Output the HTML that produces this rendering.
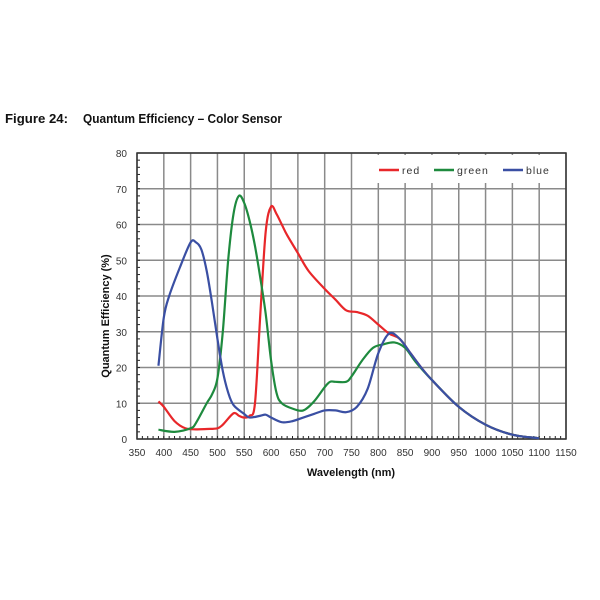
<!DOCTYPE html>
<html><head><meta charset="utf-8"><style>
body{margin:0;background:#fff;width:600px;height:600px;overflow:hidden}
svg{display:block;font-family:"Liberation Sans",sans-serif}
</style></head><body>
<svg id="chart" width="600" height="600" viewBox="0 0 600 600">
<text x="5" y="123" font-size="13" font-weight="bold" fill="#111" textLength="63" lengthAdjust="spacingAndGlyphs">Figure 24:</text>
<text x="83" y="123" font-size="13" font-weight="bold" fill="#111" textLength="199" lengthAdjust="spacingAndGlyphs">Quantum Efficiency – Color Sensor</text>
<g id="grid"></g>
<g id="axes"></g>
<g id="series"></g>
<g id="legend"></g>
<text x="351" y="476" font-size="11" font-weight="bold" text-anchor="middle" fill="#111">Wavelength (nm)</text>
<text transform="translate(109,316) rotate(-90)" font-size="11" font-weight="bold" text-anchor="middle" fill="#111">Quantum Efficiency (%)</text>
</svg>
<script>
const xTicks=[350,400,450,500,550,600,650,700,750,800,850,900,950,1000,1050,1100,1150];
const yTicks=[0,10,20,30,40,50,60,70,80];
const redX=[390,400,420,440,460,480,500,510,530,540,550,560,570,580,590,600,610,620,630,650,670,700,720,740,760,780,800,820,840,860,880,900,950,1000,1050,1100];
const redY=[10.5,9,5,3,2.7,2.8,3,4,7.2,6.5,6,6.5,10,35,58,65,63,60,57,52,47,42,39,36,35.5,34.5,32,29.5,28,24,20,16.5,9,4,1.2,0.2];
const greenX=[390,420,450,460,480,490,500,510,520,530,540,550,560,570,580,590,600,610,620,640,660,680,700,710,720,740,750,770,790,810,830,850,870,900,950,1000,1050,1100];
const greenY=[2.6,2,3,4.5,10,12.5,17,30,50,63,68,66,61,54,45,35,22,13,10,8.5,8,10.5,14.5,16,16,16,17.5,22,25.5,26.5,27,25.5,21.5,16.5,9,4,1.2,0.2];
const blueX=[390,400,410,430,450,460,470,480,490,500,510,520,530,550,560,580,590,600,620,640,660,680,700,720,740,760,780,800,820,840,860,880,900,950,1000,1050,1100];
const blueY=[20.5,34,40,48,55,55,53,47,38,28,19,13,9.5,7,6,6.5,6.8,6,4.7,5,6,7,8,8,7.5,9,14,24,29.5,28,24,20,16.5,9,4,1.2,0.2];
const NS="http://www.w3.org/2000/svg";
const L=137,R=566,T=153,B=439;
const sx=v=>L+(v-350)/(1150-350)*(R-L);
const sy=v=>B-v/80*(B-T);
function mk(tag,attrs,parent){const e=document.createElementNS(NS,tag);for(const k in attrs)e.setAttribute(k,attrs[k]);parent.appendChild(e);return e;}
const grid=document.getElementById('grid'),axes=document.getElementById('axes'),series=document.getElementById('series'),legend=document.getElementById('legend');
xTicks.forEach(t=>{
 const g=mk('line',{x1:sx(t),x2:sx(t),y1:T,y2:B,stroke:'#8a8a8a','stroke-width':1.5},grid);
 
 
 const tx=mk('text',{x:sx(t),y:B+17,'font-size':10,'text-anchor':'middle',fill:'#333'},axes);
 tx.textContent=t;
 
 
});
yTicks.forEach(t=>{
 const g=mk('line',{x1:L,x2:R,y1:sy(t),y2:sy(t),stroke:'#8a8a8a','stroke-width':1.5},grid);
 
 
 const tx=mk('text',{x:L-10,y:sy(t)+4,'font-size':10,'text-anchor':'end',fill:'#333'},axes);
 tx.textContent=t;
 
 
});
// minor ticks
for(let v=0;v<=80;v+=2){mk('line',{x1:L,x2:L+3,y1:sy(v),y2:sy(v),stroke:'#222','stroke-width':1},axes);}
for(let v=350;v<=1150;v+=10){mk('line',{x1:sx(v),x2:sx(v),y1:B,y2:B-3,stroke:'#222','stroke-width':1},axes);}
const fr=mk('rect',{x:L,y:T,width:R-L,height:B-T,fill:'none',stroke:'#333','stroke-width':1.5},axes);


function path(xs,ys){
 const p=xs.map((x,i)=>[sx(x),sy(ys[i])]);
 let d='M'+p[0][0]+','+p[0][1];
 for(let i=0;i<p.length-1;i++){
  const p0=p[Math.max(0,i-1)],p1=p[i],p2=p[i+1],p3=p[Math.min(p.length-1,i+2)];
  const c1=[p1[0]+(p2[0]-p0[0])/6,p1[1]+(p2[1]-p0[1])/6];
  const c2=[p2[0]-(p3[0]-p1[0])/6,p2[1]-(p3[1]-p1[1])/6];
  d+=' C'+c1[0]+','+c1[1]+' '+c2[0]+','+c2[1]+' '+p2[0]+','+p2[1];
 }
 return d;
}
const bg=mk('rect',{x:372,y:155,width:190,height:28,fill:'#fff'},legend);
const defs=[['red',redX,redY,'#e8272a'],['green',greenX,greenY,'#1e8a3e'],['blue',blueX,blueY,'#3a4fa3']];
defs.forEach(([n,xs,ys,c])=>{
 const pth=mk('path',{d:path(xs,ys),fill:'none',stroke:c,'stroke-width':2.2},series);
 
 
});
[['red',379,402,'#e8272a'],['green',434,457,'#1e8a3e'],['blue',503,526,'#3a4fa3']].forEach(([n,x1,tx,c])=>{
 const ln=mk('line',{x1:x1,x2:x1+20,y1:170,y2:170,stroke:c,'stroke-width':2.5},legend);
 
 
 const t=mk('text',{x:tx,y:174,'font-size':10.5,fill:'#333','letter-spacing':'1'},legend);
 t.textContent=n;
 
 
});
</script>
</body></html>
